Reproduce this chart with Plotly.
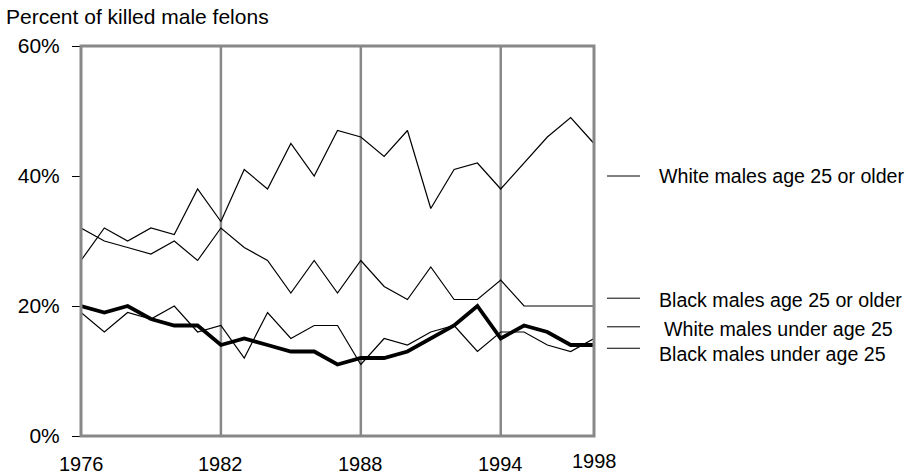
import plotly.graph_objects as go

years = list(range(1976, 1999))
white_25_older = [27, 32, 30, 32, 31, 38, 33, 41, 38, 45, 40, 47, 46, 43, 47, 35, 41, 42, 38, 42, 46, 49, 45]
black_25_older = [32, 30, 29, 28, 30, 27, 32, 29, 27, 22, 27, 22, 27, 23, 21, 26, 21, 21, 24, 20, 20, 20, 20]
white_under_25 = [19, 16, 19, 18, 20, 16, 17, 12, 19, 15, 17, 17, 11, 15, 14, 16, 17, 13, 16, 16, 14, 13, 15]
black_under_25 = [20, 19, 20, 18, 17, 17, 14, 15, 14, 13, 13, 11, 12, 12, 13, 15, 17, 20, 15, 17, 16, 14, 14]

y_tick_vals = [0, 20, 40, 60]
y_tick_text = ["0%", "20%", "40%", "60%"]
x_label_years = [1976, 1982, 1988, 1994, 1998]
grid_years = [1982, 1988, 1994]

series_names = ["White males age 25 or older", "Black males age 25 or older",
                "White males under age 25", "Black males under age 25"]
series_values = [white_25_older, black_25_older, white_under_25, black_under_25]
series_widths = [1.2, 1.2, 1.2, 3.8]
legend_line_y = [40, 21.2, 16.8, 13.5]
legend_text_y = [40, 20.9, 16.4, 12.6]
legend_text_shift = [0, 0, 5, 0]

FONT = "Liberation Sans, Arial, sans-serif"

fig = go.Figure()
for name, vals, w in zip(series_names, series_values, series_widths):
    fig.add_trace(go.Scatter(x=years, y=vals, mode="lines", name=name,
                             line=dict(color="black", width=w), showlegend=False))

shapes = []
for g in grid_years:
    shapes.append(dict(type="line", xref="x", yref="paper", x0=g, x1=g, y0=0, y1=1,
                       line=dict(color="#888888", width=2.5), layer="below"))
shapes.append(dict(type="rect", xref="paper", yref="paper", x0=0, x1=1, y0=0, y1=1,
                   line=dict(color="#888888", width=3)))

annotations = []
plot_w = 908 - 81 - 314
for name, ly, ty, sh in zip(series_names, legend_line_y, legend_text_y, legend_text_shift):
    shapes.append(dict(type="line", xref="paper", yref="y",
                       x0=(607 - 81) / plot_w, x1=(640 - 81) / plot_w, y0=ly, y1=ly,
                       line=dict(color="black", width=1)))
    annotations.append(dict(xref="paper", yref="y", x=(657 - 81) / plot_w, y=ty,
                            text=name, showarrow=False, xanchor="left", yanchor="middle",
                            xshift=sh, font=dict(family=FONT, size=19.6, color="black")))

for yr in x_label_years:
    annotations.append(dict(xref="x", yref="y", x=yr, y=0, text=str(yr), showarrow=False,
                            xanchor="center", yanchor="middle",
                            yshift=-25 if yr == 1998 else -28,
                            font=dict(family=FONT, size=20, color="black")))

annotations.append(dict(xref="paper", yref="paper", x=-81 / plot_w, y=1, text="Percent of killed male felons",
                        showarrow=False, xanchor="left", yanchor="middle", xshift=4, yshift=46 - 16,
                        font=dict(family=FONT, size=21, color="black")))

fig.update_layout(
    width=908, height=475,
    margin=dict(l=81, r=314, t=46, b=39),
    paper_bgcolor="white", plot_bgcolor="white",
    font=dict(family=FONT, size=20, color="black"),
    shapes=shapes, annotations=annotations,
    xaxis=dict(range=[1976, 1998], showgrid=False, zeroline=False, showticklabels=False,
               showline=False, ticks=""),
    yaxis=dict(range=[0, 60], tickvals=y_tick_vals, ticktext=y_tick_text, showgrid=False,
               zeroline=False, showline=False, ticks="outside", ticklen=8, tickcolor="black",
               tickwidth=1, ticklabelstandoff=8, tickfont=dict(family=FONT, size=21, color="black")),
)

fig.write_html("out.html", config={"displayModeBar": False},
               post_script="document.body.style.margin='0';document.body.style.overflow='hidden';")
